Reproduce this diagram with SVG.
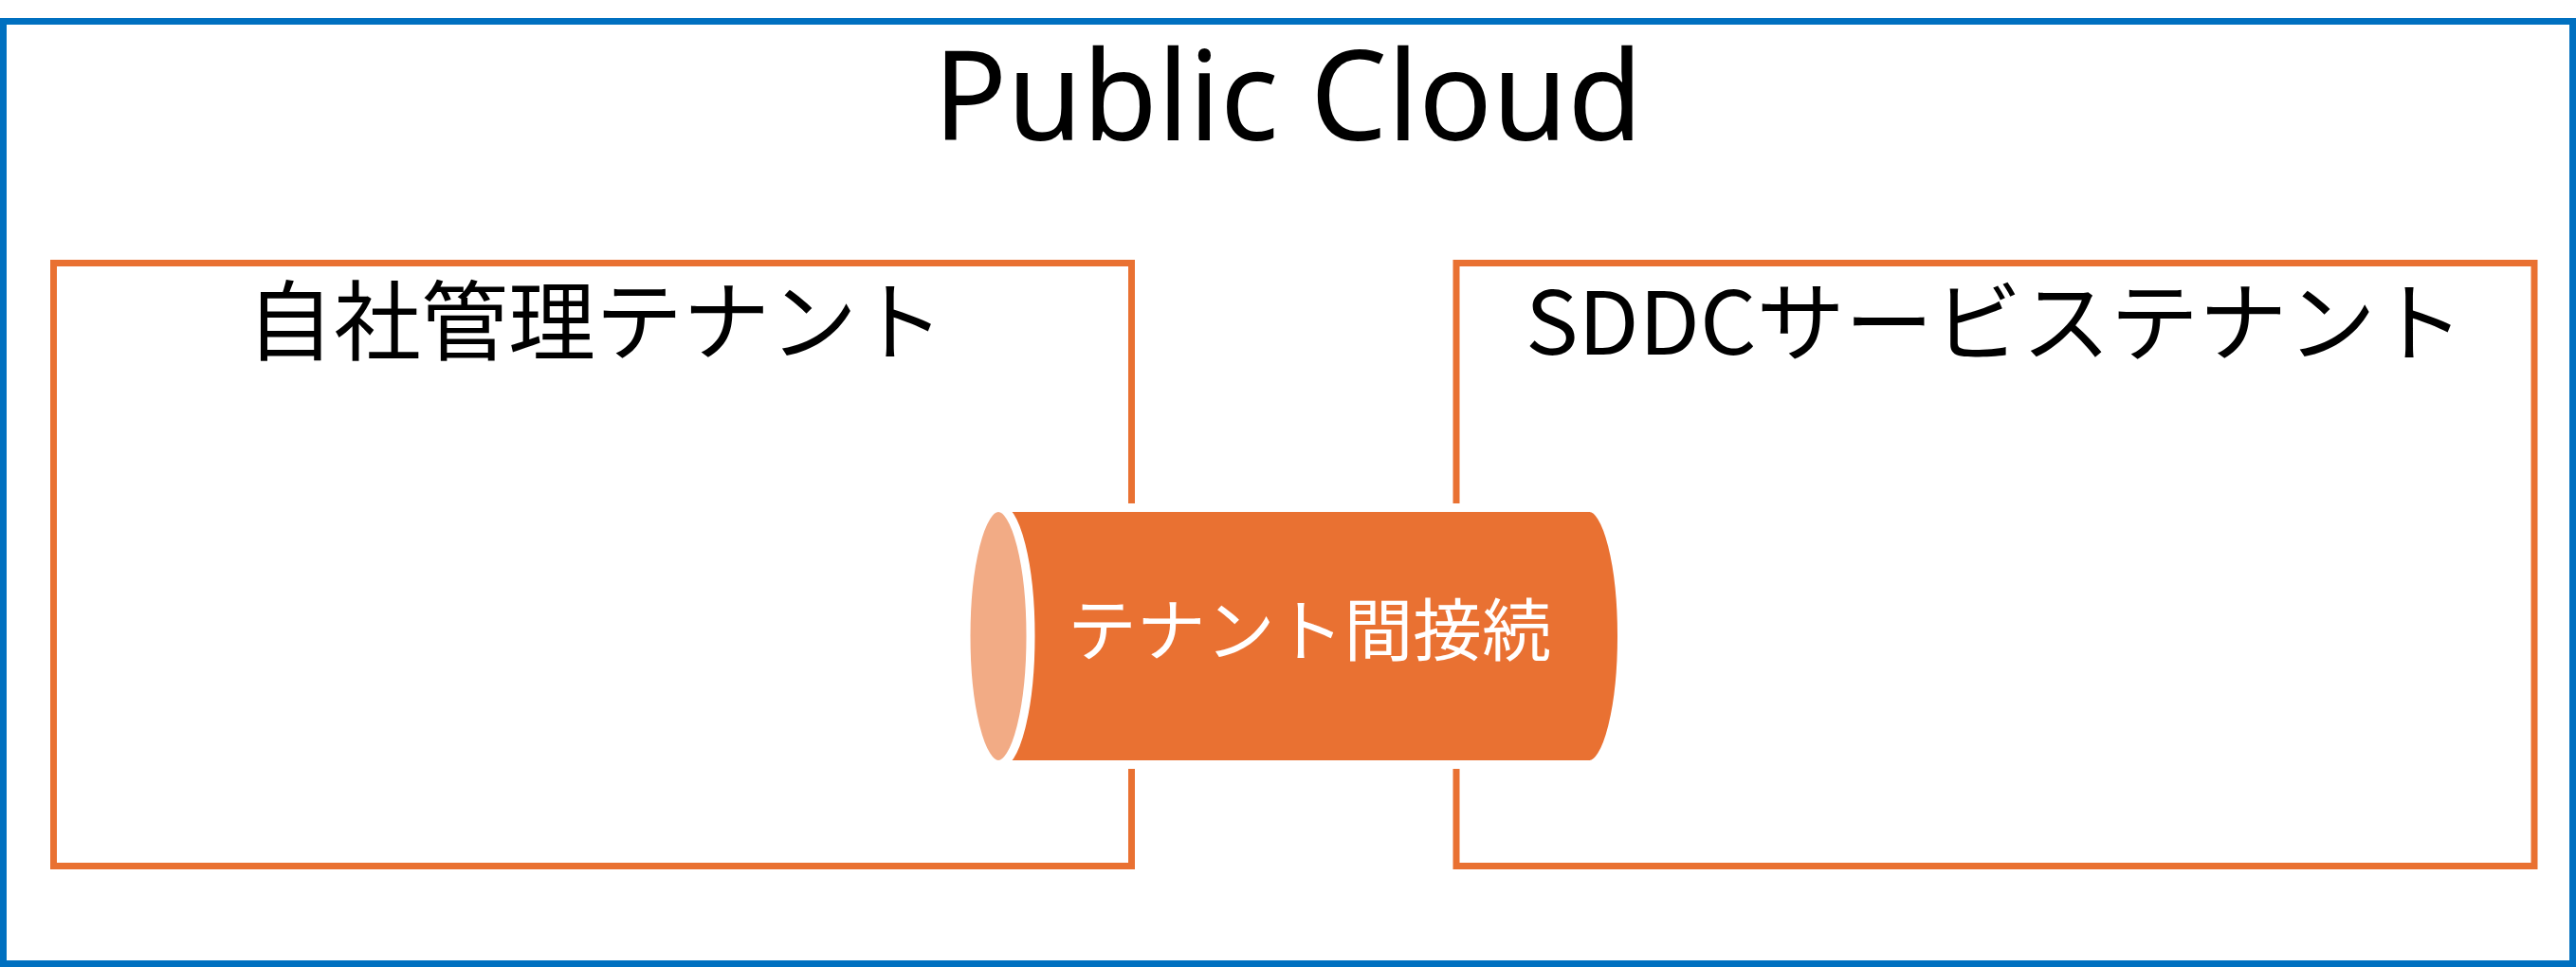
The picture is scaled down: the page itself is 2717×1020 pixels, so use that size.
<svg xmlns="http://www.w3.org/2000/svg" width="2717" height="1020" viewBox="0 0 2717 1020">
  <style>
    .outer { fill: #FFFFFF; stroke: #0070C0; stroke-width: 7; }
    .tenant { fill: none; stroke: #E97132; stroke-width: 7; }
    .title { font-family: "Noto Sans", "Liberation Sans", sans-serif; font-size: 131px; fill: #000000; }
    .label { font-family: "Noto Sans", "Noto Sans CJK JP", sans-serif; font-size: 92px; fill: #000000; }
    .jp { font-family: "Noto Sans CJK JP", sans-serif; }
    .pipe-body { fill: #E97132; stroke: #FFFFFF; stroke-width: 9; }
    .pipe-cap { fill: #F2AB85; stroke: #FFFFFF; stroke-width: 9; }
    .pipe-text { font-family: "Noto Sans CJK JP", sans-serif; font-size: 72px; fill: #FFFFFF; }
  </style>
  <rect x="0" y="0" width="2717" height="1020" fill="#FFFFFF"/>
  <g id="public-cloud">
    <rect class="outer" x="3.5" y="22.5" width="2710" height="994"/>
    <text class="title" x="1358.5" y="148" text-anchor="middle" textLength="748" lengthAdjust="spacingAndGlyphs">Public Cloud</text>
  </g>
  <g id="self-managed-tenant">
    <rect class="tenant" x="56.5" y="277.5" width="1137" height="636"/>
    <text class="label jp" x="628" y="332" text-anchor="middle" dominant-baseline="central" textLength="736" lengthAdjust="spacingAndGlyphs">自社管理テナント</text>
  </g>
  <g id="sddc-service-tenant">
    <rect class="tenant" x="1536" y="277.5" width="1137" height="636"/>
    <text class="label jp" x="2104" y="333" text-anchor="middle" dominant-baseline="central" textLength="990" lengthAdjust="spacingAndGlyphs">SDDCサービステナント</text>
  </g>
  <g id="connectors">
    <g id="inter-tenant-connection">
      <path class="pipe-body" d="M1053,535.5 L1676.5,535.5 A34,135.5 0 0 1 1676.5,806.5 L1053,806.5 A34,135.5 0 0 1 1053,535.5 Z"/>
      <ellipse class="pipe-cap" cx="1053" cy="671" rx="34" ry="135.5"/>
      <text class="pipe-text" x="1381" y="659" text-anchor="middle" dominant-baseline="central" textLength="510" lengthAdjust="spacingAndGlyphs">テナント間接続</text>
    </g>
  </g>
</svg>
